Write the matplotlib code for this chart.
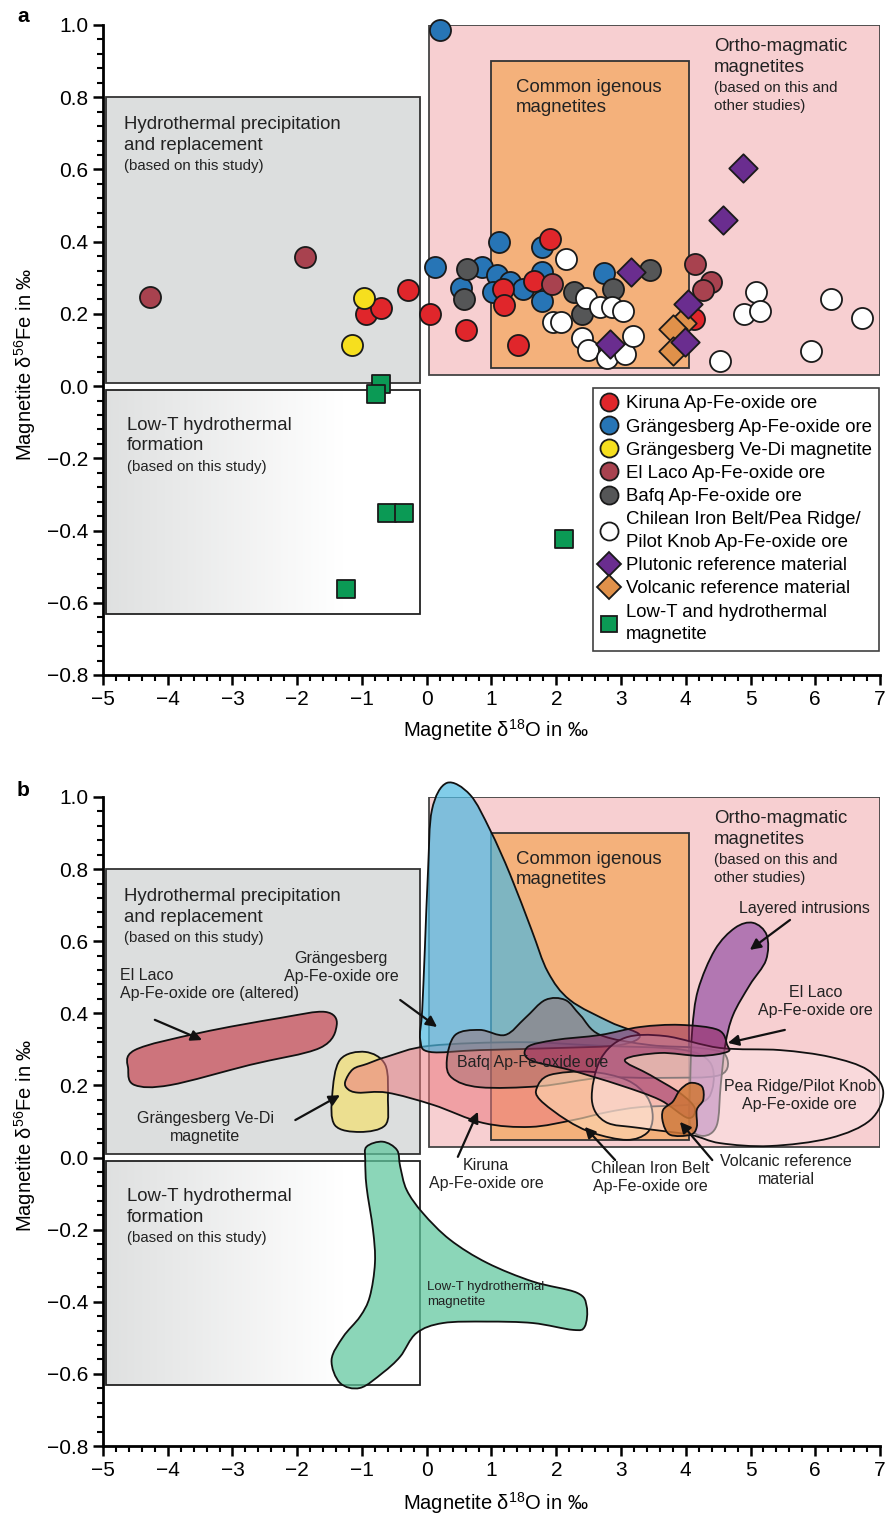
import numpy as np
import matplotlib
matplotlib.use("Agg")
import matplotlib.pyplot as plt
from matplotlib.patches import Rectangle, PathPatch
from matplotlib.path import Path
from matplotlib.lines import Line2D
from matplotlib.ticker import MultipleLocator

plt.rcParams['font.family'] = ['Liberation Sans', 'DejaVu Sans']
plt.rcParams['mathtext.fontset'] = 'custom'
plt.rcParams['mathtext.rm'] = 'Liberation Sans'
plt.rcParams['mathtext.default'] = 'regular'

# ---------------- panel a: measured samples (d18O, d56Fe) ----------------
kiruna_x = [-0.29, -0.94, -0.71, 0.05, 0.60, 1.17, 1.19, 1.41, 1.91, 1.66, 4.12]
kiruna_y = [0.266, 0.201, 0.215, 0.199, 0.155, 0.268, 0.226, 0.115, 0.407, 0.292, 0.187]
grang_x = [0.21, 0.12, 0.85, 0.53, 1.12, 1.08, 1.29, 1.03, 1.48, 1.78, 1.78, 1.78, 2.74]
grang_y = [0.986, 0.329, 0.329, 0.272, 0.40, 0.307, 0.289, 0.261, 0.27, 0.386, 0.317, 0.236, 0.312]
vedi_x = [-0.97, -1.15]
vedi_y = [0.243, 0.115]
ellaco_x = [-4.27, -1.88, 1.93, 4.15, 4.39, 4.27]
ellaco_y = [0.246, 0.358, 0.282, 0.337, 0.289, 0.266]
bafq_x = [0.62, 0.58, 2.27, 2.39, 2.87, 3.45]
bafq_y = [0.323, 0.240, 0.261, 0.201, 0.27, 0.321]
chile_x = [2.15, 2.46, 2.68, 2.86, 3.03, 1.95, 2.08, 2.39, 2.49, 2.78, 3.06, 3.19,
           4.53, 4.90, 5.08, 5.15, 5.93, 6.25, 6.72]
chile_y = [0.351, 0.243, 0.22, 0.22, 0.209, 0.178, 0.178, 0.132, 0.10, 0.077, 0.088, 0.139,
           0.069, 0.199, 0.261, 0.209, 0.097, 0.240, 0.189]
pluton_x = [4.89, 4.58, 3.16, 4.04, 3.99, 2.83]
pluton_y = [0.605, 0.46, 0.315, 0.227, 0.123, 0.116]
volc_x = [3.94, 3.80, 3.80]
volc_y = [0.175, 0.158, 0.098]
lowt_x = [-0.71, -0.78, -0.62, -0.35, -1.25, 2.12]
lowt_y = [0.007, -0.023, -0.351, -0.351, -0.563, -0.422]

# ---------------- panel b: field outlines (d18O, d56Fe) ----------------
f_ellaco_alt_x = [-4.51, -3.50, -2.27, -1.57, -1.39, -1.65, -2.73, -3.96, -4.51, -4.61]
f_ellaco_alt_y = [0.298, 0.346, 0.387, 0.404, 0.368, 0.304, 0.257, 0.201, 0.201, 0.243]
f_vedi_x = [-1.34, -0.95, -0.64, -0.60, -0.64, -1.03, -1.42, -1.46]
f_vedi_y = [0.271, 0.293, 0.257, 0.160, 0.090, 0.071, 0.090, 0.173]
f_kiruna_x = [-1.26, -1.14, -0.92, -0.61, 0.05, 1.45, 2.68, 3.91, 4.37, 4.41, 4.18, 3.30,
              2.79, 2.26, 1.60, 0.87, 0.10, -0.61, -1.06, -1.22]
f_kiruna_y = [0.21, 0.245, 0.26, 0.28, 0.31, 0.32, 0.31, 0.30, 0.265, 0.19, 0.15, 0.14,
              0.126, 0.104, 0.085, 0.096, 0.146, 0.18, 0.18, 0.19]
f_lowt_x = [-0.93, -0.68, -0.46, -0.41, -0.31, -0.06, 0.36, 0.93, 1.64, 2.32, 2.47, 2.44,
            2.26, 1.64, 0.93, 0.25, -0.16, -0.41, -0.68, -1.03, -1.34, -1.47, -1.29,
            -1.03, -0.88, -0.80, -0.83, -0.93, -0.95]
f_lowt_y = [0.030, 0.044, 0.021, -0.025, -0.090, -0.154, -0.228, -0.292, -0.344, -0.375,
            -0.413, -0.469, -0.478, -0.459, -0.455, -0.459, -0.487, -0.552, -0.597, -0.639,
            -0.625, -0.561, -0.497, -0.441, -0.386, -0.292, -0.201, -0.081, -0.007]
f_grang_x = [0.31, 0.67, 0.98, 1.29, 1.62, 1.87, 2.21, 2.83, 3.29, 2.98, 2.06, 0.82, 0.05,
             -0.10, -0.07, -0.03, 0.02, 0.08]
f_grang_y = [1.039, 1.006, 0.908, 0.784, 0.631, 0.515, 0.437, 0.376, 0.340, 0.312, 0.304,
             0.298, 0.293, 0.326, 0.409, 0.576, 0.797, 0.964]
f_pea_x = [2.55, 2.68, 3.06, 3.68, 4.53, 5.46, 6.23, 6.81, 7.05, 6.85, 6.23, 5.30, 4.53,
           4.07, 3.29, 2.76]
f_pea_y = [0.160, 0.271, 0.332, 0.337, 0.304, 0.298, 0.279, 0.243, 0.182, 0.104, 0.054,
           0.032, 0.040, 0.063, 0.082, 0.099]
f_bafq_x = [0.31, 0.44, 0.82, 1.21, 1.52, 1.83, 2.14, 2.37, 2.68, 3.45, 4.22, 4.61, 4.53,
            3.60, 2.68, 1.75, 0.82, 0.39]
f_bafq_y = [0.27, 0.34, 0.354, 0.340, 0.387, 0.437, 0.437, 0.395, 0.340, 0.312, 0.304,
            0.285, 0.229, 0.221, 0.221, 0.198, 0.195, 0.221]
f_chile_x = [1.70, 1.90, 2.52, 3.09, 3.40, 3.49, 3.40, 3.09, 2.57, 2.16, 1.75]
f_chile_y = [0.193, 0.229, 0.238, 0.215, 0.169, 0.113, 0.068, 0.049, 0.068, 0.104, 0.160]
f_layer_x = [5.04, 5.25, 5.24, 4.99, 4.73, 4.61, 4.54, 4.48, 4.27, 4.07, 4.07, 4.10, 4.19,
             4.45, 4.76]
f_layer_y = [0.651, 0.617, 0.548, 0.479, 0.395, 0.312, 0.201, 0.090, 0.060, 0.090, 0.215,
             0.354, 0.465, 0.576, 0.637]
f_ellaco_x = [4.64, 4.50, 3.91, 3.29, 2.68, 1.98, 1.56, 1.59, 2.21, 2.98, 3.60, 4.03, 4.14,
              3.91, 3.45, 3.06, 3.60, 4.22, 4.64]
f_ellaco_y = [0.312, 0.354, 0.368, 0.362, 0.340, 0.326, 0.307, 0.271, 0.243, 0.201, 0.160,
              0.110, 0.137, 0.179, 0.229, 0.271, 0.290, 0.282, 0.293]
f_volc_x = [4.07, 4.25, 4.27, 4.17, 4.17, 4.07, 3.76, 3.65, 3.65, 3.80, 3.91]
f_volc_y = [0.207, 0.197, 0.160, 0.132, 0.085, 0.063, 0.063, 0.096, 0.132, 0.155, 0.187]

GRAY = '#dcdede'
PINK = '#f7cfd1'
ORANGE = '#f4b17b'


def blob(ax, xs, ys, color, alpha, z):
    # closed Catmull-Rom outline drawn as cubic Bezier path
    p = np.column_stack([xs, ys])
    n = len(p)
    verts = [p[0]]
    codes = [Path.MOVETO]
    for i in range(n):
        p0, p1, p2, p3 = p[i - 1], p[i], p[(i + 1) % n], p[(i + 2) % n]
        verts += [p1 + (p2 - p0) / 6, p2 - (p3 - p1) / 6, p2]
        codes += [Path.CURVE4] * 3
    verts.append(p[0])
    codes.append(Path.CLOSEPOLY)
    fc = matplotlib.colors.to_rgba(color, alpha)
    ax.add_patch(PathPatch(Path(verts, codes), facecolor=fc, edgecolor='#111111',
                           lw=1.3, zorder=z, clip_on=False))


def setup(ax):
    ax.set_xlim(-5, 7)
    ax.set_ylim(-0.8, 1.0)
    for s in ['top', 'right']:
        ax.spines[s].set_visible(False)
    for s in ['left', 'bottom']:
        ax.spines[s].set_linewidth(2.0)
        ax.spines[s].set_zorder(20)
    ax.xaxis.set_major_locator(MultipleLocator(1))
    ax.xaxis.set_minor_locator(MultipleLocator(0.2))
    ax.yaxis.set_major_locator(MultipleLocator(0.2))
    ax.yaxis.set_minor_locator(MultipleLocator(0.04))
    ax.tick_params(which='major', direction='out', length=7, width=1.8, labelsize=15)
    ax.tick_params(which='minor', direction='out', length=4, width=1.5)
    ax.set_xlabel('Magnetite δ$^{18}$O in ‰', fontsize=14.5)
    ax.set_ylabel('Magnetite δ$^{56}$Fe in ‰', fontsize=14.5)
    ax.yaxis.set_label_coords(-0.084, 0.478)

    # interpretive boxes
    ax.add_patch(Rectangle((-4.95, 0.01), 4.85, 0.79, facecolor=GRAY, edgecolor='#333333',
                           lw=1.3, zorder=1))
    grad = np.ones((1, 256, 3))
    ramp = np.clip(np.linspace(0, 1, 256) / 0.75, 0, 1)
    for k, c in enumerate([0.875, 0.88, 0.88]):
        grad[0, :, k] = c + (1 - c) * ramp
    ax.imshow(grad, extent=(-4.95, -0.1, -0.63, -0.01), aspect='auto', zorder=1)
    ax.add_patch(Rectangle((-4.95, -0.63), 4.85, 0.62, facecolor='none', edgecolor='#222222',
                           lw=1.3, zorder=1.1))
    ax.add_patch(Rectangle((0.03, 0.03), 6.97, 0.97, facecolor=PINK, edgecolor='#444444',
                           lw=1.3, zorder=1))
    ax.add_patch(Rectangle((1.0, 0.05), 3.05, 0.85, facecolor=ORANGE, edgecolor='#333333',
                           lw=1.3, zorder=1.2))
    ax.set_xlim(-5, 7)
    ax.set_ylim(-0.8, 1.0)

    tc = '#222222'
    big = dict(fontsize=13.4, va='top', color=tc, linespacing=1.28, zorder=3)
    small = dict(fontsize=10.8, va='top', color=tc, linespacing=1.33, zorder=3)
    ax.text(-4.68, 0.747, 'Hydrothermal precipitation\nand replacement', **big)
    ax.text(-4.68, 0.628, '(based on this study)', **small)
    ax.text(-4.63, -0.085, 'Low-T hydrothermal\nformation', **big)
    ax.text(-4.63, -0.205, '(based on this study)', **small)
    ax.text(1.38, 0.851, 'Common igenous\nmagnetites', **big)
    ax.text(4.44, 0.964, 'Ortho-magmatic\nmagnetites', **big)
    ax.text(4.44, 0.845, '(based on this and\nother studies)', **small)


fig = plt.figure(figsize=(8.85, 15.16), dpi=100)
ax_a = fig.add_axes([103 / 885, (1516 - 675) / 1516, 777 / 885, 650 / 1516])
ax_b = fig.add_axes([103 / 885, (1516 - 1446) / 1516, 777 / 885, 649 / 1516])
setup(ax_a)
setup(ax_b)
ax_a.xaxis.set_label_coords(0.506, -0.064)
ax_b.xaxis.set_label_coords(0.506, -0.068)

# ---------------- panel a scatter ----------------
EC = '#1a1a1a'
groups = [
    (grang_x, grang_y, 'o', '#2775b6', 230),
    (kiruna_x, kiruna_y, 'o', '#e0262b', 230),
    (ellaco_x, ellaco_y, 'o', '#a8424f', 230),
    (bafq_x, bafq_y, 'o', '#555657', 230),
    (vedi_x, vedi_y, 'o', '#f6df1e', 230),
    (chile_x, chile_y, 'o', '#ffffff', 230),
    (volc_x, volc_y, 'D', '#e0914a', 210),
    (pluton_x, pluton_y, 'D', '#6a2d8f', 210),
    (lowt_x, lowt_y, 's', '#0b9a55', 170),
]
for i, (xs, ys, m, c, s) in enumerate(groups):
    ax_a.scatter(xs, ys, marker=m, s=s, facecolor=c, edgecolor=EC, linewidth=1.3,
                 zorder=5 + i, clip_on=False)

leg_items = [
    ('o', '#e0262b', 'Kiruna Ap-Fe-oxide ore'),
    ('o', '#2775b6', 'Grängesberg Ap-Fe-oxide ore'),
    ('o', '#f6df1e', 'Grängesberg Ve-Di magnetite'),
    ('o', '#a8424f', 'El Laco Ap-Fe-oxide ore'),
    ('o', '#555657', 'Bafq Ap-Fe-oxide ore'),
    ('o', '#ffffff', 'Chilean Iron Belt/Pea Ridge/\nPilot Knob Ap-Fe-oxide ore'),
    ('D', '#6a2d8f', 'Plutonic reference material'),
    ('D', '#e0914a', 'Volcanic reference material'),
    ('s', '#0b9a55', 'Low-T and hydrothermal\nmagnetite'),
]
handles = [Line2D([], [], ls='', marker=m, ms=13 if m == 'o' else 12, mfc=c, mec=EC, mew=1.3)
           for m, c, _ in leg_items]
leg = ax_a.legend(handles, [t for _, _, t in leg_items], loc='upper left',
                  bbox_to_anchor=((593 - 103) / 777, (675 - 388) / 650), borderaxespad=0,
                  fontsize=13.4, frameon=True, fancybox=False, edgecolor='#111111',
                  handlelength=0.9, handletextpad=0.45, labelspacing=0.33, borderpad=0.4)
leg.get_frame().set_linewidth(1.2)
leg.set_zorder(30)
for t in leg.get_texts():
    t.set_linespacing(1.45)

# ---------------- panel b fields ----------------
blob(ax_b, f_ellaco_alt_x, f_ellaco_alt_y, '#cd6e77', 0.95, 3)
blob(ax_b, f_vedi_x, f_vedi_y, '#eee08a', 0.92, 3)
blob(ax_b, f_lowt_x, f_lowt_y, '#5fc79d', 0.72, 3)
blob(ax_b, f_kiruna_x, f_kiruna_y, '#ec7b80', 0.55, 4)
blob(ax_b, f_grang_x, f_grang_y, '#4cb8e0', 0.7, 4.5)
blob(ax_b, f_bafq_x, f_bafq_y, '#9a6464', 0.45, 5)
blob(ax_b, f_chile_x, f_chile_y, '#fcd5b0', 0.65, 5.5)
blob(ax_b, f_layer_x, f_layer_y, '#9b5aa8', 0.75, 6)
blob(ax_b, f_pea_x, f_pea_y, '#fbe4e6', 0.5, 6.2)
blob(ax_b, f_ellaco_x, f_ellaco_y, '#8c1a5a', 0.5, 6.5)
blob(ax_b, f_volc_x, f_volc_y, '#d07838', 0.85, 7)

tc = '#222222'
lab_kw = dict(fontsize=11.5, color=tc, zorder=10, linespacing=1.25)
arr_kw = dict(arrowstyle='-|>', color='#111111', lw=1.6, mutation_scale=16,
              shrinkA=0, shrinkB=0)


def label_arrow(text, txy, tail, head, ha='center'):
    ax_b.text(txy[0], txy[1], text, ha=ha, va='center', **lab_kw)
    if tail is not None:
        ax_b.annotate('', xy=head, xytext=tail, arrowprops=arr_kw, zorder=11)


label_arrow('Layered intrusions', (5.84, 0.692), (5.61, 0.659), (4.99, 0.576))
label_arrow('El Laco\nAp-Fe-oxide ore', (6.0, 0.432), (5.53, 0.354), (4.65, 0.318))
label_arrow('Pea Ridge/Pilot Knob\nAp-Fe-oxide ore', (5.76, 0.171), None, None)
label_arrow('Volcanic reference\nmaterial', (5.55, -0.035), (4.41, -0.007), (3.91, 0.099))
label_arrow('Chilean Iron Belt\nAp-Fe-oxide ore', (3.45, -0.054), (2.91, -0.007), (2.44, 0.085))
label_arrow('Kiruna\nAp-Fe-oxide ore', (0.92, -0.046), (0.48, 0.002), (0.79, 0.127))
label_arrow('Bafq Ap-Fe-oxide ore', (0.47, 0.265), None, None, ha='left')
label_arrow('Grängesberg\nAp-Fe-oxide ore', (-1.32, 0.526), (-0.41, 0.437), (0.16, 0.362))
label_arrow('El Laco\nAp-Fe-oxide ore (altered)', (-4.74, 0.479), (-4.20, 0.382),
            (-3.47, 0.326), ha='left')
label_arrow('Grängesberg Ve-Di\nmagnetite', (-3.42, 0.082), (-2.03, 0.104), (-1.34, 0.173))
ax_b.text(0.0, -0.38, 'Low-T hydrothermal\nmagnetite', fontsize=9.5, color=tc, va='center',
          zorder=10, linespacing=1.25)

fig.text(17 / 885, 1 - 17 / 1516, 'a', fontsize=15, fontweight='bold', va='center')
fig.text(17 / 885, 1 - 790 / 1516, 'b', fontsize=15, fontweight='bold', va='center')

fig.savefig('out.png', dpi=100)
